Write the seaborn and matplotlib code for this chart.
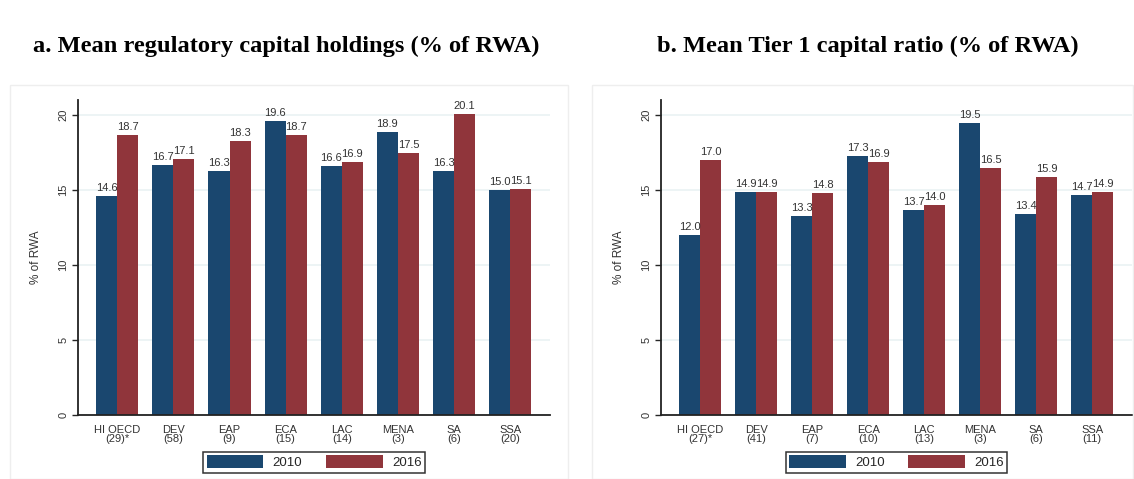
import pandas as pd
import seaborn as sns
import matplotlib.pyplot as plt
from matplotlib.patches import Rectangle

# dados
regioes = ["HI OECD", "DEV", "EAP", "ECA", "LAC", "MENA", "SA", "SSA"]
n_a = ["(29)*", "(58)", "(9)", "(15)", "(14)", "(3)", "(6)", "(20)"]
n_b = ["(27)*", "(41)", "(7)", "(10)", "(13)", "(3)", "(6)", "(11)"]
anos = ["2010", "2016"]

cap_2010 = [14.6, 16.7, 16.3, 19.6, 16.6, 18.9, 16.3, 15.0]
cap_2016 = [18.7, 17.1, 18.3, 18.7, 16.9, 17.5, 20.1, 15.1]
tier1_2010 = [12.0, 14.9, 13.3, 17.3, 13.7, 19.5, 13.4, 14.7]
tier1_2016 = [17.0, 14.9, 14.8, 16.9, 14.0, 16.5, 15.9, 14.9]

titulo_a = "a. Mean regulatory capital holdings (% of RWA)"
titulo_b = "b. Mean Tier 1 capital ratio (% of RWA)"

cores = {"2010": "#1a476f", "2016": "#90353b"}

sns.set_style("white")
plt.rcParams['font.family'] = ['Liberation Sans', 'DejaVu Sans']


def montar(v2010, v2016, ns):
    labels = [f"{r}\n{n}" for r, n in zip(regioes, ns)]
    df = pd.DataFrame({
        "Regiao": labels * 2,
        "Ano": ["2010"] * 8 + ["2016"] * 8,
        "Valor": v2010 + v2016,
    })
    return df, labels


def desenhar(ax, df, labels):
    sns.barplot(data=df, x="Regiao", y="Valor", hue="Ano", order=labels,
                hue_order=anos, palette=cores, width=0.75, saturation=1,
                ax=ax, zorder=2, edgecolor="none")
    for c in ax.containers:
        ax.bar_label(c, fmt="%.1f", padding=2, fontsize=8, color="#333333")
    ax.set_xlim(-0.70, 7.71)
    ax.set_ylim(0, 21)
    ax.set_yticks([0, 5, 10, 15, 20])
    ax.set_yticklabels(["0", "5", "10", "15", "20"], rotation=90,
                       va="center", fontsize=8, color="#333333")
    ax.tick_params(axis="y", length=4, width=1, direction="out", left=True, pad=3)
    ax.tick_params(axis="x", length=0, labelsize=8, labelcolor="#333333", pad=7)
    for lab in ax.get_xticklabels():
        lab.set_linespacing(0.95)
    ax.set_xlabel("")
    ax.set_ylabel("% of RWA", fontsize=8.5, color="#333333", labelpad=12)
    ax.yaxis.grid(True, color="#eaf2f3", linewidth=1.2, zorder=0)
    ax.set_axisbelow(True)
    sns.despine(ax=ax)
    for s in ["left", "bottom"]:
        ax.spines[s].set_color("#222222")
        ax.spines[s].set_linewidth(1.3)
    ax.legend_.remove()
    h, l = ax.get_legend_handles_labels()
    leg = ax.legend(h, l, loc="upper center", bbox_to_anchor=(0.5, -0.118),
                    ncol=2, fontsize=9.5, frameon=True, fancybox=False,
                    handlelength=4.3, handleheight=1.1, columnspacing=1.8,
                    handletextpad=0.7, borderpad=0.25, borderaxespad=0)
    leg.get_frame().set_edgecolor("black")
    leg.get_frame().set_linewidth(1.1)


fig = plt.figure(figsize=(11.34, 4.79), dpi=100)

# molduras claras dos paineis
fig.patches.append(Rectangle((10 / 1134, 0), 558 / 1134, 1 - 85 / 479,
                             transform=fig.transFigure, fill=False,
                             edgecolor="#eeeeee", linewidth=1))
fig.patches.append(Rectangle((592 / 1134, 0), 541 / 1134, 1 - 85 / 479,
                             transform=fig.transFigure, fill=False,
                             edgecolor="#eeeeee", linewidth=1))

ax1 = fig.add_axes([78 / 1134, 1 - 415 / 479, 472 / 1134, 315 / 479])
ax2 = fig.add_axes([661 / 1134, 1 - 415 / 479, 471 / 1134, 315 / 479])

df_a, lab_a = montar(cap_2010, cap_2016, n_a)
df_b, lab_b = montar(tier1_2010, tier1_2016, n_b)
desenhar(ax1, df_a, lab_a)
desenhar(ax2, df_b, lab_b)

fig.text(286 / 1134, 1 - 46 / 479, titulo_a, ha="center", va="center",
         fontsize=17.6, fontweight="bold", family="Liberation Serif", color="black")
fig.text(868 / 1134, 1 - 46 / 479, titulo_b, ha="center", va="center",
         fontsize=17.6, fontweight="bold", family="Liberation Serif", color="black")

fig.savefig("out.png", dpi=100)
